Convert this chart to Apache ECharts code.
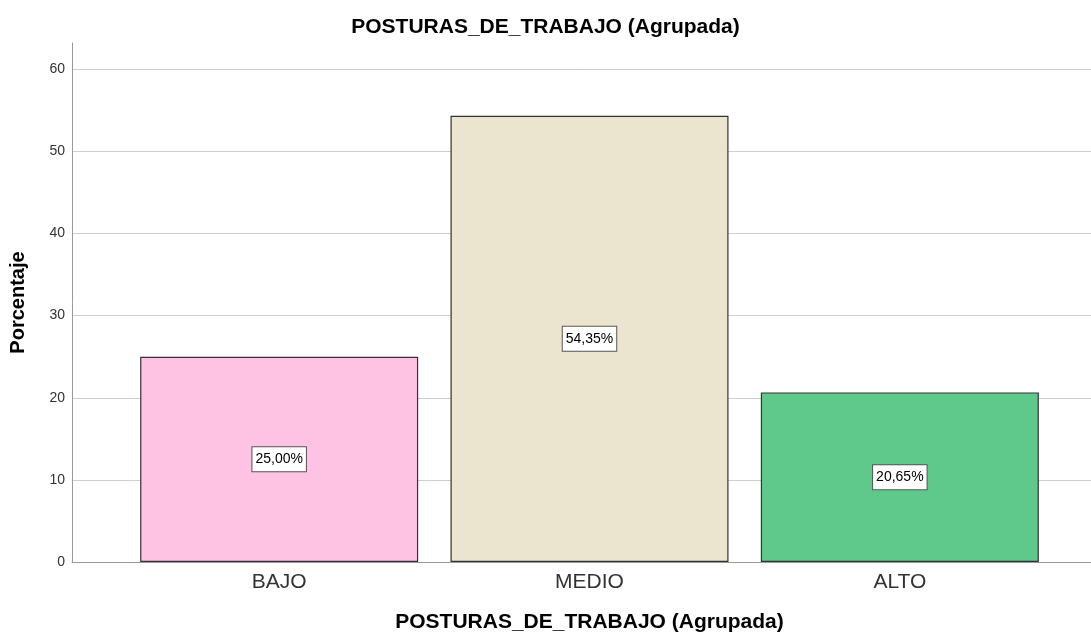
<!DOCTYPE html>
<html>
<head>
<meta charset="utf-8">
<script src="https://cdn.jsdelivr.net/npm/echarts@6/dist/echarts.min.js"></script>
<style>
    html, body { margin: 0; padding: 0; background: #fff; }
    #grafico { width: 1091px; height: 634px; }
</style>
</head>
<body>
<div id="grafico"></div>
<script>
// datos
var categorias = ['BAJO', 'MEDIO', 'ALTO'];
var porcentajes = [25.00, 54.35, 20.65];
var colores = ['#fec3e2', '#ebe4cf', '#5ec98a'];
var titulo = 'POSTURAS_DE_TRABAJO (Agrupada)';

var myChart = echarts.init(document.getElementById('grafico'));

var barras = [];
for (var i = 0; i < porcentajes.length; i++) {
    barras.push({
        value: porcentajes[i],
        itemStyle: { color: colores[i] }
    });
}

var fuente = 'Liberation Sans, Arial, sans-serif';

option = {
    animation: false,
    title: {
        text: titulo,
        left: 'center',
        top: 12,
        textStyle: { fontFamily: fuente, fontSize: 21, fontWeight: 'bold', color: '#000' }
    },
    grid: [
        // eje y + lineas de cuadricula
        { left: 72, right: 0, top: 43, bottom: 72, outerBoundsMode: 'none', containLabel: false },
        // barras
        { left: 124, right: 36, top: 43, bottom: 72, outerBoundsMode: 'none', containLabel: false }
    ],
    xAxis: [
        {
            gridIndex: 0,
            type: 'value',
            min: 0,
            max: 1,
            axisLine: { show: true, lineStyle: { color: '#999', width: 1 } },
            axisTick: { show: false },
            axisLabel: { show: false },
            splitLine: { show: false }
        },
        {
            gridIndex: 1,
            type: 'category',
            data: categorias,
            axisLine: { show: false },
            axisTick: { show: false },
            axisLabel: { margin: 10, fontFamily: fuente, fontSize: 21, color: '#333' },
            name: titulo,
            nameLocation: 'middle',
            nameGap: 50,
            nameTextStyle: { fontFamily: fuente, fontSize: 21, fontWeight: 'bold', color: '#000' }
        }
    ],
    yAxis: [
        {
            gridIndex: 0,
            type: 'value',
            min: 0,
            max: 63.2,
            interval: 10,
            axisLine: { show: true, lineStyle: { color: '#999', width: 1 } },
            axisTick: { show: false },
            axisLabel: { margin: 7, fontFamily: fuente, fontSize: 14, color: '#333', showMaxLabel: false },
            splitLine: { show: true, showMaxLine: false, lineStyle: { color: '#cfcfcf', width: 1 } },
            name: 'Porcentaje',
            nameLocation: 'middle',
            nameGap: 44,
            nameTextStyle: { fontFamily: fuente, fontSize: 20, fontWeight: 'bold', color: '#000' }
        },
        {
            gridIndex: 1,
            type: 'value',
            min: 0,
            max: 63.2,
            show: false
        }
    ],
    series: [
        {
            type: 'bar',
            xAxisIndex: 1,
            yAxisIndex: 1,
            data: barras,
            barWidth: 278,
            itemStyle: { borderColor: '#333', borderWidth: 1.2 },
            label: {
                show: true,
                position: 'inside',
                formatter: function (p) {
                    return p.value.toFixed(2).replace('.', ',') + '%';
                },
                fontFamily: fuente,
                fontSize: 14,
                lineHeight: 16,
                color: '#000',
                backgroundColor: '#fff',
                borderColor: '#555',
                borderWidth: 1,
                padding: [4, 3]
            }
        }
    ]
};

myChart.setOption(option);
</script>
</body>
</html>
